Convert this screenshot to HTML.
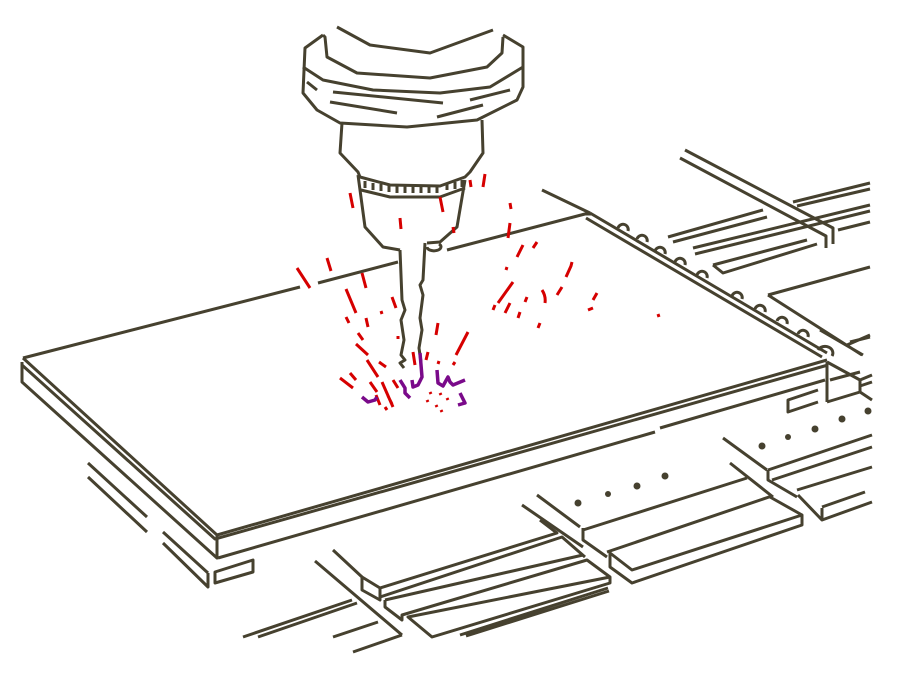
<!DOCTYPE html>
<html><head><meta charset="utf-8"><style>
html,body{margin:0;padding:0;background:#fff;width:900px;height:675px;overflow:hidden}
svg{display:block}
</style></head><body>
<svg width="900" height="675" viewBox="0 0 900 675" xmlns="http://www.w3.org/2000/svg">
<g fill="none" stroke="#46412f" stroke-width="3" stroke-linejoin="round" stroke-linecap="butt">
<!-- top right rails -->
<path d="M685 150 L833 228 L833 244 M680 158 L826 236 L826 248"/>
<path d="M668 237 L763 210 M673 242 L767 217 M793 202 L870 183 M797 206 L870 189"/>
<path d="M693 248 L870 205 M695 254 L870 211 M838 230 L870 222"/>
<path d="M713 265 L723 273 L817 244 M713 265 L807 240"/>
<path d="M768 295 L870 267 M768 295 L862 355 M850 342 L870 337 M820 330 L863 355 M847 345 L870 335"/>
<!-- plate top -->
<path d="M23 358 L300 287 M318 283 L398 262 M447 250 L585 214 L591 214"/>
<path d="M542 190 L590 213"/>
<path d="M590 213 L827 353"/>
<path d="M586 218 L822 357"/>
<!-- bumps -->
<g>
<path d="M618 228 a5 5 0 0 1 10 3"/><path d="M637 239 a5 5 0 0 1 10 3"/><path d="M655 251 a5 5 0 0 1 10 3"/>
<path d="M675 262 a5 5 0 0 1 10 3"/><path d="M697 275 a5 5 0 0 1 10 3"/><path d="M732 296 a5 5 0 0 1 10 3"/>
<path d="M755 309 a5 5 0 0 1 10 3"/><path d="M777 321 a5 5 0 0 1 10 3"/><path d="M798 334 a5 5 0 0 1 10 3"/>
<path d="M818 350 a6 5 0 0 1 14 6"/>
</g>
<!-- plate left & front -->
<path d="M23 358 L217 535 L827 360"/>
<path d="M22 365 L215 539 L828 365"/>
<path d="M22 362 L22 382 L217 558 L217 535"/>
<path d="M218 558 L655 432 M660 428 L825 380"/>
<path d="M827 362 L827 402 M827 362 L860 380 L860 392 L827 402 M830 380 L860 372 M860 380 L872 375 M860 386 L872 382 M860 392 L872 400"/>
<path d="M818 390 L788 400 L788 412 L818 402"/>
<path d="M88 463 L147 517 M88 477 L147 532 M163 532 L208 573 M163 543 L208 587 L208 573"/>
<path d="M215 572 L253 560 L253 572 L215 583 Z"/>
<!-- lower middle beams -->
<path d="M333 550 L362 577 M315 561 L402 635"/>
<path d="M362 577 L362 590 L380 600 L380 588 Z M380 588 L557 533 L540 520 M380 597 L562 537 L585 557"/>
<path d="M385 600 L583 555 M385 600 L385 607 L402 620 L402 615 L587 560 L610 577 L610 583 L432 637 L408 617 L610 577"/>
<path d="M460 635 L608 588 M466 636 L609 591"/>
<path d="M243 637 L352 600 M258 637 L357 603 M333 637 L378 622 M353 652 L402 635"/>
<!-- right beams -->
<path d="M522 505 L583 547 M537 495 L580 527"/>
<path d="M583 528 L583 540 L607 557 M583 530 L747 478 M607 552 L772 496 M610 553 L632 570 L802 515 L802 525 L632 583 L610 567 Z M770 497 L802 515"/>
<path d="M723 438 L767 470 M730 463 L773 497"/>
<path d="M768 470 L872 435 M768 470 L768 480 L797 497 M772 480 L872 447 M797 490 L872 467 M798 495 L822 520 L872 502 M822 507 L865 492 M822 520 L822 508"/>
<!-- spindle -->
<path d="M337 27 L370 45 L430 53 L493 30"/>
<path d="M323 35 L305 48 L303 93 L317 110 L340 123 L407 127 L477 120 L517 100 L523 87 L523 47 L503 35"/>
<path d="M323 35 L325 37 L327 57 L357 73 L430 78 L487 67 L502 53 L503 37"/>
<path d="M303 67 L323 80 L373 90 L440 93 L490 87 L523 67"/>
<path d="M307 82 L317 90 M333 92 L443 103 M330 102 L397 113 M437 117 L483 105 M470 100 L510 90"/>
<path d="M342 123 L340 153 L358 172 L360 177 L390 185 L440 186 L465 177 L470 172 L483 153 L482 120"/>
<path d="M361 190 L390 197 L440 197 L465 188" />
<path d="M365 181 v7 M373 183 v7 M381 184 v7 M389 185 v7 M397 186 v7 M405 186 v7 M413 186 v7 M421 186 v7 M429 186 v7 M437 186 v7 M447 184 v6 M455 182 v7 M462 180 v7" stroke-width="3"/>
<path d="M358 175 L365 227 L383 247 L400 250"/>
<path d="M465 180 L457 227 L440 242 L427 243"/>
<path d="M400 250 L402 300 L405 310 L401 320 L404 340 L401 355 L405 360 L400 363 L404 368"/>
<path d="M425 243 L423 280 L420 285 L423 295 L420 318 L422 330 L419 348 L421 362"/>
<path d="M427 247 a7 4 0 1 0 12 -3"/>
</g>
<!-- dots -->
<g fill="#46412f">
<circle cx="578" cy="503" r="3.5"/><circle cx="608" cy="494" r="3"/><circle cx="637" cy="486" r="3.5"/><circle cx="665" cy="476" r="3.5"/>
<circle cx="762" cy="446" r="3.5"/><circle cx="788" cy="437" r="3"/><circle cx="815" cy="429" r="3.5"/><circle cx="842" cy="419" r="3.5"/><circle cx="868" cy="411" r="3.5"/>
</g>
<!-- red sparks -->
<g stroke="#d60000" stroke-width="3" fill="none" stroke-linecap="butt">
<path d="M297 268 L310 288 M327 258 L331 271 M362 273 L366 288 M346 289 L356 313 M392 297 L396 308 M381 311 L382 314 M346 317 L349 323 M366 318 L368 327 M358 333 L363 340 M356 344 L368 355 M367 360 L378 377 M379 362 L386 367 M398 336 L398 339 M438 323 L436 335 M468 332 L456 355 M455 362 L453 365 M439 361 L438 364"/>
<path d="M340 378 L353 388 M350 373 L356 380 M370 382 L377 392 M382 382 L393 407 M393 380 L398 388 M413 352 L415 365 M428 352 L426 360 M385 407 L387 410 M376 395 L380 405 M388 396 L392 404"/>
<path d="M430 392 l1 2 M440 393 l1 2 M436 405 l1 2 M441 410 l1 2 M427 400 l1 2 M447 398 l1 2"/>
<path d="M350 193 L353 208 M400 218 L401 229 M440 197 L443 212 M470 180 L471 187 M485 174 L483 187 M453 227 L454 233 M510 203 L511 209 M510 223 L508 238 M523 245 L517 257 M537 242 L533 248"/>
<path d="M513 282 L498 303 M507 267 L506 270 M527 297 L525 302 M510 303 L505 313 M520 312 L518 318 M495 305 L493 310 M540 323 L538 328"/>
<path d="M572 262 L571 266 L566 277 M562 287 L557 295 M542 290 Q546 296 545 303 M597 293 L593 300 M593 308 L588 310 M658 314 L659 317"/>
</g>
<!-- purple -->
<g stroke="#7a0a8a" stroke-width="3.5" fill="none" stroke-linejoin="round">
<path d="M362 397 L368 402 L375 400 L377 397"/>
<path d="M400 380 L405 388 L405 393 L410 398"/>
<path d="M412 380 L413 387 L418 385 L422 377 L420 353"/>
<path d="M437 370 L438 383 L443 386 L448 377 L450 382 L453 385 L465 380"/>
<path d="M460 393 L465 403 L458 405"/>
</g>
</svg>
</body></html>
